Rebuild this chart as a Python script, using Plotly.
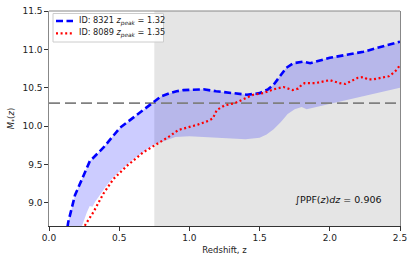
import plotly.graph_objects as go

# ---- data ----
blue_z = [0.12, 0.137, 0.185, 0.244, 0.292, 0.30, 0.387, 0.506, 0.648, 0.743, 0.80, 0.862, 0.909,
          0.957, 1.10, 1.19, 1.337, 1.41, 1.50, 1.56, 1.60, 1.645, 1.69, 1.74, 1.81, 1.86, 2.0, 2.24, 2.5]
blue_m = [8.55, 8.75, 9.10, 9.35, 9.55, 9.56, 9.72, 9.98, 10.175, 10.30, 10.39, 10.43, 10.455,
          10.47, 10.48, 10.455, 10.42, 10.41, 10.43, 10.48, 10.54, 10.65, 10.76, 10.82, 10.84, 10.82, 10.89, 10.97, 11.10]

red_z = [0.24, 0.26, 0.316, 0.387, 0.458, 0.553, 0.672, 0.79, 0.86, 0.92, 0.96, 1.06, 1.135, 1.165,
         1.18, 1.195, 1.25, 1.325, 1.395, 1.455, 1.525, 1.60, 1.67, 1.70, 1.735, 1.775, 1.80, 1.82,
         1.895, 2.0, 2.07, 2.11, 2.2, 2.24, 2.27, 2.31, 2.42, 2.45, 2.48, 2.5]
red_m = [8.65, 8.72, 8.88, 9.12, 9.31, 9.48, 9.66, 9.79, 9.87, 9.95, 9.97, 10.02, 10.07, 10.10,
         10.15, 10.21, 10.27, 10.30, 10.36, 10.41, 10.43, 10.48, 10.51, 10.49, 10.47, 10.49, 10.54, 10.56,
         10.56, 10.60, 10.56, 10.55, 10.63, 10.64, 10.61, 10.61, 10.65, 10.69, 10.74, 10.80]

lower_z = [0.20, 0.235, 0.27, 0.29, 0.31, 0.33, 0.40, 0.45, 0.50, 0.60, 0.70, 0.75, 0.80, 0.90,
           1.0, 1.2, 1.4, 1.5, 1.55, 1.60, 1.65, 1.70, 1.75, 1.80, 1.835, 2.5]
lower_m = [8.30, 8.70, 8.88, 8.96, 8.95, 9.02, 9.20, 9.32, 9.41, 9.57, 9.70, 9.76, 9.80, 9.86,
           9.87, 9.85, 9.83, 9.85, 9.89, 9.96, 10.05, 10.16, 10.22, 10.25, 10.22, 10.50]

blue_label = "ID: 8321 <i>z<sub>peak</sub></i> = 1.32"
red_label = "ID: 8089 <i>z<sub>peak</sub></i> = 1.35"
threshold = 10.3
gray_start = 0.75
ppf_text = "∫PPF(<i>z</i>)<i>dz</i> = 0.906"
x_ticks = [0.0, 0.5, 1.0, 1.5, 2.0, 2.5]
y_ticks = [9.0, 9.5, 10.0, 10.5, 11.0, 11.5]

FONT = "DejaVu Sans"
BLUE_DASH = "7px,3.5px"
RED_DASH = "2px,2.6px"

fig = go.Figure()

# shaded band between lower bound and upper (blue) curve
poly_z = blue_z + lower_z[::-1]
poly_m = blue_m + lower_m[::-1]
fig.add_trace(go.Scatter(x=poly_z, y=poly_m, fill="toself", fillcolor="rgba(0,0,255,0.2)",
                         line=dict(width=0), mode="lines", showlegend=False, hoverinfo="skip"))

fig.add_trace(go.Scatter(x=[0, 2.5], y=[threshold, threshold], mode="lines",
                         line=dict(color="#808080", width=1.6, dash="11px,5px"),
                         showlegend=False))

fig.add_trace(go.Scatter(x=blue_z, y=blue_m, mode="lines", name=blue_label, showlegend=False,
                         line=dict(color="#0000ff", width=2.6, dash=BLUE_DASH)))
fig.add_trace(go.Scatter(x=red_z, y=red_m, mode="lines", name=red_label, showlegend=False,
                         line=dict(color="#ff0000", width=2.2, dash=RED_DASH)))

# gray region
fig.add_shape(type="rect", xref="x", yref="paper", x0=gray_start, x1=2.5, y0=0, y1=1,
              fillcolor="#e5e5e5", line=dict(width=0), layer="below")
# top spine
fig.add_shape(type="line", xref="paper", yref="paper", x0=0, x1=1, y0=1, y1=1,
              line=dict(color="#888888", width=1.2))

# manual legend (paper coords; plot area 351 x 215 px)
def px_x(px):
    return (px - 49) / 351.0

def px_y(py):
    return (226 - py) / 215.0

fig.add_shape(type="rect", xref="paper", yref="paper",
              x0=px_x(53), x1=px_x(163.5), y0=px_y(42), y1=px_y(13.5),
              fillcolor="rgba(255,255,255,0.85)", line=dict(color="#cccccc", width=1))
fig.add_shape(type="line", xref="paper", yref="paper",
              x0=px_x(56), x1=px_x(73), y0=px_y(21), y1=px_y(21),
              line=dict(color="#0000ff", width=2.6, dash=BLUE_DASH))
fig.add_shape(type="line", xref="paper", yref="paper",
              x0=px_x(56), x1=px_x(73), y0=px_y(33.3), y1=px_y(33.3),
              line=dict(color="#ff0000", width=2.2, dash=RED_DASH))
fig.add_annotation(x=px_x(76.5), y=px_y(21), xref="paper", yref="paper", text=blue_label,
                   showarrow=False, xanchor="left", yanchor="middle",
                   font=dict(family=FONT, size=8.2, color="#222222"))
fig.add_annotation(x=px_x(76.5), y=px_y(33.3), xref="paper", yref="paper", text=red_label,
                   showarrow=False, xanchor="left", yanchor="middle",
                   font=dict(family=FONT, size=8.2, color="#222222"))

fig.add_annotation(x=2.06, y=9.05, xref="x", yref="y", text=ppf_text, showarrow=False,
                   font=dict(family=FONT, size=9.5, color="#111111"))

fig.update_layout(
    width=415, height=263,
    margin=dict(l=49, r=15, t=11, b=37),
    paper_bgcolor="white", plot_bgcolor="white",
    font=dict(family=FONT, size=9, color="#222222"),
    showlegend=False,
    xaxis=dict(range=[0, 2.5], tickvals=x_ticks, tickformat=".1f", showgrid=False, zeroline=False,
               ticks="outside", ticklen=3.5, tickcolor="#333333", showline=True,
               linecolor="#333333", linewidth=1.2, automargin=False,
               title=dict(text="Redshift, z", font=dict(size=8.5), standoff=4)),
    yaxis=dict(range=[8.7, 11.5], tickvals=y_ticks, tickformat=".1f", showgrid=False, zeroline=False,
               ticks="outside", ticklen=3.5, tickcolor="#333333", showline=True,
               linecolor="#888888", linewidth=1.2, mirror=True, automargin=False,
               title=dict(text="<i>M<sub>*</sub></i>(<i>z</i>)", font=dict(size=8.5), standoff=6)),
)

fig.write_html("out.html", config={"displayModeBar": False},
               post_script="document.body.style.margin='0px';")
